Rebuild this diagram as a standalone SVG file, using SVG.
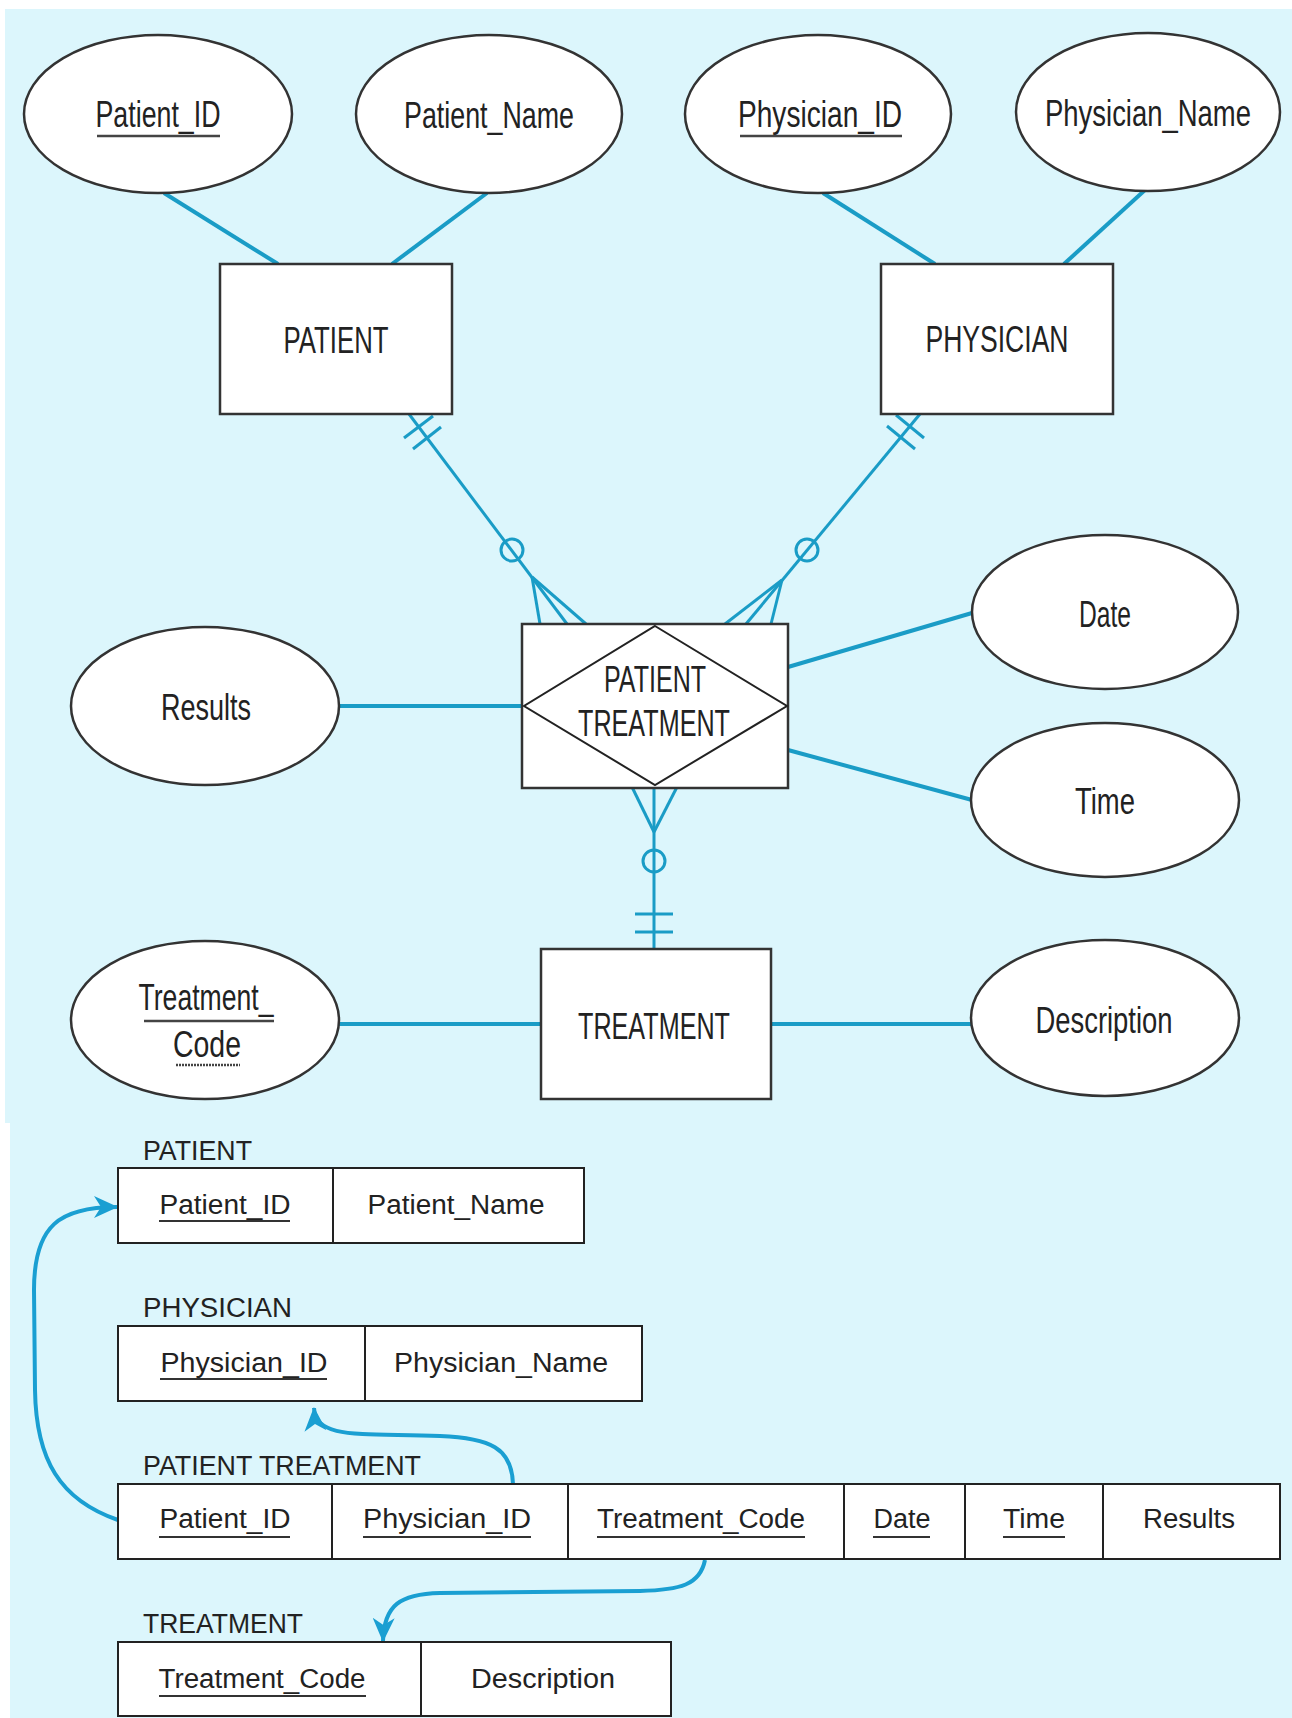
<svg xmlns="http://www.w3.org/2000/svg" width="1292" height="1718" viewBox="0 0 1292 1718">
<defs>
<style>
.er{fill:#fff;stroke:#333;stroke-width:2.5}
.t{font-family:"Liberation Sans",Arial,sans-serif;font-size:36px;fill:#222;text-anchor:middle}
.r{font-family:"Liberation Sans",Arial,sans-serif;font-size:27px;fill:#222;text-anchor:middle}
.lb{font-family:"Liberation Sans",Arial,sans-serif;font-size:27px;fill:#222}
.ul{stroke:#444;stroke-width:2.5}
.ul2{stroke:#333;stroke-width:1.8}
.c{stroke:#1a9cc6;stroke-width:4;fill:none}
.rel{stroke:#1a9cc6;stroke-width:3;fill:none}
.tb{fill:#fff;stroke:#222;stroke-width:2}
.arr{stroke:#1a9fd2;stroke-width:4;fill:none}
</style>
<marker id="ah" markerUnits="userSpaceOnUse" viewBox="0 0 24 22" refX="23" refY="11" markerWidth="24" markerHeight="22" orient="auto">
<path d="M0,0 L24,11 L0,22 L7,11 Z" fill="#1a9fd2"/>
</marker>
</defs>
<rect x="0" y="0" width="1292" height="1718" fill="#fff"/>
<rect x="5" y="9" width="1287" height="1114" fill="#dcf6fc"/>
<rect x="10" y="1123" width="1282" height="595" fill="#dcf6fc"/>

<g id="connectors">
<line class="c" x1="164" y1="193" x2="278" y2="264"/>
<line class="c" x1="487" y1="193" x2="392" y2="264"/>
<line class="c" x1="823" y1="193" x2="935" y2="264"/>
<line class="c" x1="1145" y1="190" x2="1064" y2="264"/>
<line class="c" x1="338" y1="706" x2="523" y2="706"/>
<line class="c" x1="788" y1="667" x2="972" y2="613"/>
<line class="c" x1="788" y1="750" x2="972" y2="800"/>
<line class="c" x1="338" y1="1024" x2="541" y2="1024"/>
<line class="c" x1="771" y1="1024" x2="972" y2="1024"/>
<!-- PATIENT to PATIENT TREATMENT -->
<line class="rel" x1="409" y1="414" x2="567" y2="624"/>
<line class="rel" x1="532" y1="577" x2="540" y2="624"/>
<line class="rel" x1="532" y1="577" x2="586" y2="624"/>
<line class="rel" x1="404" y1="438" x2="433" y2="416"/>
<line class="rel" x1="413" y1="449" x2="441" y2="427"/>
<circle class="rel" cx="512" cy="550" r="11" fill="#dcf6fc"/>
<!-- PHYSICIAN to PATIENT TREATMENT -->
<line class="rel" x1="920" y1="414" x2="746" y2="624"/>
<line class="rel" x1="782" y1="580" x2="725" y2="624"/>
<line class="rel" x1="782" y1="580" x2="771" y2="624"/>
<line class="rel" x1="896" y1="415" x2="924" y2="438"/>
<line class="rel" x1="887" y1="426" x2="915" y2="449"/>
<circle class="rel" cx="807" cy="550" r="11" fill="#dcf6fc"/>
<!-- TREATMENT to PATIENT TREATMENT -->
<line class="rel" x1="654" y1="787" x2="654" y2="950"/>
<line class="rel" x1="654" y1="832" x2="632" y2="787"/>
<line class="rel" x1="654" y1="832" x2="677" y2="787"/>
<line class="rel" x1="635" y1="914" x2="673" y2="914"/>
<line class="rel" x1="635" y1="932" x2="673" y2="932"/>
<circle class="rel" cx="654" cy="861" r="11" fill="#dcf6fc"/>
<!-- relational arrows -->
<path class="arr" d="M118,1520 C60,1500 36,1460 35,1390 L34,1290 C34,1225 60,1207 117,1207" marker-end="url(#ah)"/>
<path class="arr" d="M513,1484 C512,1448 490,1438 440,1436 C360,1433 316,1440 314,1408" marker-end="url(#ah)"/>
<path class="arr" d="M705,1560 C700,1585 680,1590 640,1591 L440,1593 C400,1594 384,1605 383,1641" marker-end="url(#ah)"/>
</g>

<g id="patient_id">
<ellipse class="er" cx="158" cy="114" rx="134" ry="79"/>
<text class="t" x="158" y="127" textLength="125" lengthAdjust="spacingAndGlyphs">Patient_ID</text>
<line class="ul" x1="97" y1="136" x2="220" y2="136"/>
</g>
<g id="patient_name">
<ellipse class="er" cx="489" cy="114" rx="133" ry="79"/>
<text class="t" x="489" y="128" textLength="170" lengthAdjust="spacingAndGlyphs">Patient_Name</text>
</g>
<g id="physician_id">
<ellipse class="er" cx="818" cy="114" rx="133" ry="79"/>
<text class="t" x="820" y="127" textLength="164" lengthAdjust="spacingAndGlyphs">Physician_ID</text>
<line class="ul" x1="740" y1="136" x2="902" y2="136"/>
</g>
<g id="physician_name">
<ellipse class="er" cx="1148" cy="112" rx="132" ry="79"/>
<text class="t" x="1148" y="126" textLength="206" lengthAdjust="spacingAndGlyphs">Physician_Name</text>
</g>
<g id="patient">
<rect class="er" x="220" y="264" width="232" height="150"/>
<text class="t" x="336" y="353" textLength="105" lengthAdjust="spacingAndGlyphs">PATIENT</text>
</g>
<g id="physician">
<rect class="er" x="881" y="264" width="232" height="150"/>
<text class="t" x="997" y="352" textLength="143" lengthAdjust="spacingAndGlyphs">PHYSICIAN</text>
</g>
<g id="patient_treatment">
<rect class="er" x="522" y="624" width="266" height="164"/>
<polygon points="655,626 787,706 655,785 524,706" fill="none" stroke="#222" stroke-width="2"/>
<text class="t" x="655" y="692" textLength="102" lengthAdjust="spacingAndGlyphs">PATIENT</text>
<text class="t" x="654" y="736" textLength="152" lengthAdjust="spacingAndGlyphs">TREATMENT</text>
</g>
<g id="results">
<ellipse class="er" cx="205" cy="706" rx="134" ry="79"/>
<text class="t" x="206" y="720" textLength="90" lengthAdjust="spacingAndGlyphs">Results</text>
</g>
<g id="date">
<ellipse class="er" cx="1105" cy="612" rx="133" ry="77"/>
<text class="t" x="1105" y="627" textLength="52" lengthAdjust="spacingAndGlyphs">Date</text>
</g>
<g id="time">
<ellipse class="er" cx="1105" cy="800" rx="134" ry="77"/>
<text class="t" x="1105" y="814" textLength="60" lengthAdjust="spacingAndGlyphs">Time</text>
</g>
<g id="treatment_code">
<ellipse class="er" cx="205" cy="1020" rx="134" ry="79"/>
<text class="t" x="206" y="1010" textLength="135" lengthAdjust="spacingAndGlyphs">Treatment_</text>
<line class="ul" x1="144" y1="1021" x2="274" y2="1021"/>
<text class="t" x="207" y="1057" textLength="68" lengthAdjust="spacingAndGlyphs">Code</text>
<line class="ul" x1="176" y1="1065" x2="240" y2="1065" stroke-dasharray="2 1"/>
</g>
<g id="treatment">
<rect class="er" x="541" y="949" width="230" height="150"/>
<text class="t" x="654" y="1039" textLength="152" lengthAdjust="spacingAndGlyphs">TREATMENT</text>
</g>
<g id="description">
<ellipse class="er" cx="1105" cy="1018" rx="134" ry="78"/>
<text class="t" x="1104" y="1033" textLength="137" lengthAdjust="spacingAndGlyphs">Description</text>
</g>

<g id="table_patient">
<text class="lb" x="143" y="1160" textLength="109" lengthAdjust="spacingAndGlyphs">PATIENT</text>
<rect class="tb" x="118" y="1168" width="466" height="75"/>
<line class="tb" x1="333" y1="1168" x2="333" y2="1243"/>
<text class="r" x="225" y="1214" textLength="131" lengthAdjust="spacingAndGlyphs">Patient_ID</text>
<line class="ul2" x1="159" y1="1221" x2="290" y2="1221"/>
<text class="r" x="456" y="1214" textLength="177" lengthAdjust="spacingAndGlyphs">Patient_Name</text>
</g>
<g id="table_physician">
<text class="lb" x="143" y="1317" textLength="149" lengthAdjust="spacingAndGlyphs">PHYSICIAN</text>
<rect class="tb" x="118" y="1326" width="524" height="75"/>
<line class="tb" x1="365" y1="1326" x2="365" y2="1401"/>
<text class="r" x="244" y="1372" textLength="167" lengthAdjust="spacingAndGlyphs">Physician_ID</text>
<line class="ul2" x1="160" y1="1379" x2="327" y2="1379"/>
<text class="r" x="501" y="1372" textLength="214" lengthAdjust="spacingAndGlyphs">Physician_Name</text>
</g>
<g id="table_patient_treatment">
<text class="lb" x="143" y="1475" textLength="278" lengthAdjust="spacingAndGlyphs">PATIENT TREATMENT</text>
<rect class="tb" x="118" y="1484" width="1162" height="75"/>
<line class="tb" x1="332" y1="1484" x2="332" y2="1559"/>
<line class="tb" x1="568" y1="1484" x2="568" y2="1559"/>
<line class="tb" x1="844" y1="1484" x2="844" y2="1559"/>
<line class="tb" x1="965" y1="1484" x2="965" y2="1559"/>
<line class="tb" x1="1103" y1="1484" x2="1103" y2="1559"/>
<text class="r" x="225" y="1528" textLength="131" lengthAdjust="spacingAndGlyphs">Patient_ID</text>
<line class="ul2" x1="159" y1="1537" x2="290" y2="1537"/>
<text class="r" x="447" y="1528" textLength="168" lengthAdjust="spacingAndGlyphs">Physician_ID</text>
<line class="ul2" x1="363" y1="1537" x2="531" y2="1537"/>
<text class="r" x="701" y="1528" textLength="208" lengthAdjust="spacingAndGlyphs">Treatment_Code</text>
<line class="ul2" x1="597" y1="1537" x2="805" y2="1537"/>
<text class="r" x="902" y="1528" textLength="57" lengthAdjust="spacingAndGlyphs">Date</text>
<line class="ul2" x1="873" y1="1537" x2="930" y2="1537"/>
<text class="r" x="1034" y="1528" textLength="62" lengthAdjust="spacingAndGlyphs">Time</text>
<line class="ul2" x1="1003" y1="1537" x2="1065" y2="1537"/>
<text class="r" x="1189" y="1528" textLength="92" lengthAdjust="spacingAndGlyphs">Results</text>
</g>
<g id="table_treatment">
<text class="lb" x="143" y="1633" textLength="160" lengthAdjust="spacingAndGlyphs">TREATMENT</text>
<rect class="tb" x="118" y="1642" width="553" height="74"/>
<line class="tb" x1="421" y1="1642" x2="421" y2="1716"/>
<text class="r" x="262" y="1688" textLength="207" lengthAdjust="spacingAndGlyphs">Treatment_Code</text>
<line class="ul2" x1="159" y1="1696" x2="366" y2="1696"/>
<text class="r" x="543" y="1688" textLength="144" lengthAdjust="spacingAndGlyphs">Description</text>
</g>
</svg>
